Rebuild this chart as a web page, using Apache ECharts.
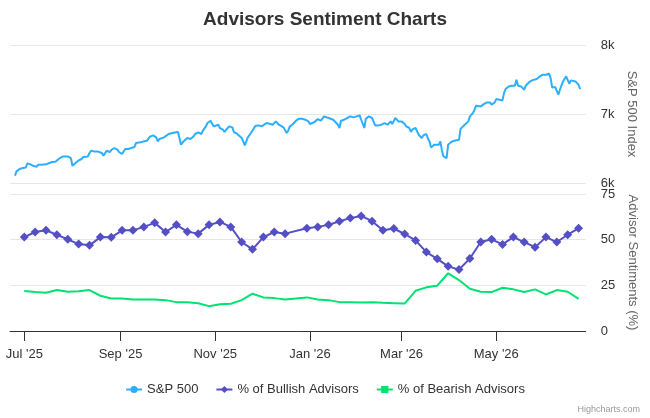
<!DOCTYPE html>
<html>
<head>
<meta charset="utf-8">
<title>Advisors Sentiment Charts</title>
<script src="https://cdn.jsdelivr.net/npm/echarts@6/dist/echarts.min.js"></script>
<style>
  html, body { margin: 0; padding: 0; background: #ffffff; }
  #chart { width: 650px; height: 418px; }
</style>
</head>
<body>
<div id="chart"></div>
<script>
// Days are counted from 1 Jul 2025.
const DAY = 86400000;
const BASE = Date.UTC(2025, 6, 1);

// S&P 500 daily close (sampled), day offset and value
const spxDay = [-6, -5, -3, -1, 1, 2, 4, 6, 8, 9, 10, 11, 12, 14, 15, 16, 18, 20, 21, 23,
  25, 26, 28, 30, 31, 33, 34, 35, 36, 37, 38, 39, 41, 42, 43, 45, 47, 48, 50, 51,
  52, 53, 54, 55, 56, 58, 60, 61, 63, 64, 65, 67, 69, 71, 72, 75, 77, 78, 79, 81,
  83, 85, 86, 87, 90, 91, 93, 94,
  97, 99, 100, 101, 103, 105, 106, 107, 109, 110, 112, 114, 115, 117, 118, 120, 121, 122, 123, 125,
  126, 128, 129, 130, 132, 133, 134, 135, 137, 138, 140, 141, 142, 143, 144, 146, 148, 149, 151, 153,
  154, 156, 158, 160, 162, 163, 164, 165, 167, 168, 169, 170, 171, 173, 175, 177, 179, 181, 183, 184,
  185, 187, 189, 191, 192, 193,
  194, 196, 197, 199, 200, 202, 203, 204, 206, 208, 210, 211, 212, 214, 216, 217, 219, 220, 222, 224,
  226, 228, 230, 232, 233, 234, 236, 237, 239, 241, 243, 244, 245, 246, 247, 248, 249, 250, 252, 253,
  254, 256, 257, 259, 260, 261, 262, 264, 265, 267, 268, 269, 270, 272, 273, 275, 277, 280, 281,
  283, 286, 287, 289, 290, 291, 292, 294, 295, 296, 298, 300, 301, 303, 304, 306, 308, 309, 310, 312,
  314, 316, 317, 318, 320, 321, 322, 323, 325, 327, 330, 332, 334, 335, 336, 338, 339, 340, 341, 342,
  344, 345, 347, 349, 350, 351, 352, 355, 356, 357, 358];
const spxValue = [6106, 6168, 6203, 6217, 6226, 6284, 6270, 6246, 6236, 6265, 6275, 6265, 6265, 6270, 6251, 6290, 6304, 6309, 6313, 6362,
  6385, 6391, 6385, 6362, 6251, 6290, 6313, 6327, 6304, 6348, 6377, 6362, 6385, 6435, 6468, 6458, 6458, 6449, 6435, 6396,
  6396, 6468, 6458, 6449, 6478, 6507, 6483, 6449, 6420, 6439, 6493, 6493, 6507, 6522, 6580, 6589, 6604, 6594, 6613, 6671,
  6690, 6661, 6604, 6638, 6661, 6675, 6710, 6719,
  6733, 6739, 6758, 6555, 6613, 6652, 6661, 6638, 6675, 6710, 6733, 6710, 6758, 6820, 6869, 6903, 6884, 6820, 6835, 6845,
  6797, 6772, 6739, 6772, 6820, 6845, 6806, 6739, 6714, 6690, 6652, 6603, 6545, 6603, 6661, 6725, 6797, 6830, 6835, 6820,
  6845, 6869, 6859, 6845, 6893, 6903, 6845, 6820, 6806, 6797, 6725, 6758, 6820, 6855, 6903, 6932, 6932, 6917, 6893, 6855,
  6859, 6884, 6927, 6903, 6932, 6965,
  6965, 6942, 6951, 6917, 6893, 6845, 6797, 6903, 6917, 6942, 6965, 6980, 6951, 6965, 6980, 6917, 6797, 6932, 6965, 6942,
  6835, 6835, 6845, 6869, 6884, 6845, 6893, 6855, 6942, 6893, 6893, 6869, 6855, 6820, 6845, 6797, 6739, 6777, 6797, 6782,
  6700, 6652, 6690, 6710, 6642, 6603, 6516, 6555, 6580, 6555, 6603, 6468, 6385, 6362, 6555, 6594, 6613, 6628, 6785,
  6830, 6893, 6965, 7014, 7062, 7120, 7120, 7110, 7085, 7143, 7168, 7168, 7134, 7168, 7216, 7207, 7197, 7303, 7361, 7400,
  7410, 7410, 7497, 7410, 7400, 7390, 7352, 7410, 7458, 7487, 7507, 7545, 7569, 7584, 7569, 7584, 7521, 7385, 7390, 7390,
  7280, 7352, 7472, 7545, 7521, 7439, 7487, 7472, 7472, 7424, 7361];

// weekly advisor survey
const surveyDates = ['2025-07-01', '2025-07-08', '2025-07-15', '2025-07-22', '2025-07-29',
  '2025-08-05', '2025-08-12', '2025-08-19', '2025-08-26',
  '2025-09-02', '2025-09-09', '2025-09-16', '2025-09-23', '2025-09-30',
  '2025-10-07', '2025-10-14', '2025-10-21', '2025-10-28',
  '2025-11-04', '2025-11-11', '2025-11-18', '2025-11-25',
  '2025-12-02', '2025-12-09', '2025-12-16', '2025-12-30',
  '2026-01-06', '2026-01-13', '2026-01-20', '2026-01-27',
  '2026-02-03', '2026-02-10', '2026-02-17', '2026-02-24',
  '2026-03-03', '2026-03-10', '2026-03-17', '2026-03-24', '2026-03-31',
  '2026-04-07', '2026-04-14', '2026-04-21', '2026-04-28',
  '2026-05-05', '2026-05-12', '2026-05-19', '2026-05-26',
  '2026-06-02', '2026-06-09', '2026-06-16', '2026-06-23'];
const bullish = [51.4, 54.2, 55.1, 52.7, 50.2, 47.6, 46.9, 51.4, 51.3, 55.1, 55.1, 57.0, 59.2, 54.2, 58.1, 54.4, 53.3,
  58.1, 59.7, 57.0, 48.7, 44.7, 51.4, 54.2, 53.3,
  56.2, 57.0, 58.1, 60.1, 61.8, 63.0, 60.1, 55.1, 56.1, 53.1, 49.6, 43.2, 39.5, 35.4, 33.6, 39.7,
  48.7, 50.2, 47.4, 51.4, 48.7, 45.9, 51.4, 48.7, 52.7, 56.2];
const bearish = [21.9, 21.3, 20.9, 22.4, 21.5, 21.7, 22.4, 19.3, 17.8, 17.8, 17.3, 17.3, 17.3, 16.9, 15.8, 15.8, 15.2,
  13.6, 14.7, 14.9, 16.9, 20.4, 18.4, 18.0, 17.3,
  18.4, 17.3, 16.9, 15.8, 15.8, 15.6, 15.8, 15.4, 15.2, 15.0, 22.0, 23.9, 24.8, 31.6, 27.9, 23.1,
  21.5, 21.3, 23.7, 22.8, 21.3, 22.8, 20.0, 22.4, 21.5, 17.6];

// x axis ticks
const tickDates = ['2025-07-01', '2025-09-01', '2025-11-01', '2026-01-01', '2026-03-01', '2026-05-01'];
const tickLabels = ["Jul '25", "Sep '25", "Nov '25", "Jan '26", "Mar '26", "May '26"];

const FONT = '"Liberation Sans", Arial, Helvetica, sans-serif';
const xMin = BASE - 9.2 * DAY;
const xMax = BASE + 361.6 * DAY;
const toTs = s => Date.parse(s + 'T00:00:00Z');
const tickTs = tickDates.map(toTs);

const spxData = spxDay.map((d, i) => [BASE + d * DAY, spxValue[i]]);
const bullData = surveyDates.map((s, i) => [toTs(s), bullish[i]]);
const bearData = surveyDates.map((s, i) => [toTs(s), bearish[i]]);

const chart = echarts.init(document.getElementById('chart'), null, { renderer: 'canvas' });

const option = {
  animation: false,
  textStyle: { fontFamily: FONT },
  title: {
    text: 'Advisors Sentiment Charts',
    left: 'center',
    top: 5,
    textStyle: { fontSize: 19, fontWeight: 'bold', color: '#333333', fontFamily: FONT }
  },
  legend: {
    top: 378,
    left: 'center',
    itemWidth: 16,
    itemHeight: 9,
    itemGap: 17,
    textStyle: { fontSize: 13, color: '#333333', fontFamily: FONT },
    data: ['S&P 500', '% of Bullish Advisors', '% of Bearish Advisors']
  },
  graphic: [{
    type: 'text',
    right: 10,
    top: 405,
    style: { text: 'Highcharts.com', fill: '#999999', fontSize: 9, fontFamily: FONT }
  }],
  grid: [
    { left: 10, right: 64.3, top: 45, height: 138, outerBoundsMode: 'none' },
    { left: 10, right: 64.3, top: 194, height: 137, outerBoundsMode: 'none' }
  ],
  xAxis: [
    {
      type: 'value', gridIndex: 0, min: xMin, max: xMax, show: false
    },
    {
      type: 'value', gridIndex: 1, min: xMin, max: xMax,
      axisLine: { show: true, onZero: false, lineStyle: { color: '#333333', width: 1 } },
      axisTick: { show: true, length: 10, lineStyle: { color: '#333333' }, customValues: tickTs },
      axisLabel: {
        customValues: tickTs,
        margin: 17,
        fontSize: 13,
        color: '#333333',
        fontFamily: FONT,
        formatter: v => tickLabels[tickTs.indexOf(v)] || ''
      },
      splitLine: { show: false }
    }
  ],
  yAxis: [
    {
      type: 'value', gridIndex: 0, position: 'right', min: 6000, max: 8000, interval: 1000,
      name: 'S&P 500 Index', nameLocation: 'middle', nameRotate: -90, nameGap: 34,
      nameTextStyle: { color: '#666666', fontSize: 13, fontFamily: FONT },
      axisLine: { show: false }, axisTick: { show: false },
      axisLabel: { margin: 15, fontSize: 13, color: '#333333', fontFamily: FONT, formatter: v => (v / 1000) + 'k' },
      splitLine: { lineStyle: { color: '#e6e6e6', width: 1 } }
    },
    {
      type: 'value', gridIndex: 1, position: 'right', min: 0, max: 75, interval: 25,
      name: 'Advisor Sentiments (%)', nameLocation: 'middle', nameRotate: -90, nameGap: 34,
      nameTextStyle: { color: '#666666', fontSize: 13, fontFamily: FONT },
      axisLine: { show: false }, axisTick: { show: false },
      axisLabel: { margin: 15, fontSize: 13, color: '#333333', fontFamily: FONT },
      splitLine: { lineStyle: { color: '#e6e6e6', width: 1 } }
    }
  ],
  series: [
    {
      name: 'S&P 500', type: 'line', xAxisIndex: 0, yAxisIndex: 0,
      data: spxData, showSymbol: false, symbol: 'circle', symbolSize: 8,
      lineStyle: { color: '#2caffe', width: 2 }, itemStyle: { color: '#2caffe' }
    },
    {
      name: '% of Bullish Advisors', type: 'line', xAxisIndex: 1, yAxisIndex: 1,
      data: bullData, symbol: 'diamond', symbolSize: 9, showSymbol: true,
      lineStyle: { color: '#544fc5', width: 2 }, itemStyle: { color: '#544fc5' }
    },
    {
      name: '% of Bearish Advisors', type: 'line', xAxisIndex: 1, yAxisIndex: 1,
      data: bearData, showSymbol: false, symbol: 'rect', symbolSize: 8,
      lineStyle: { color: '#00e272', width: 2 }, itemStyle: { color: '#00e272' }
    }
  ]
};

chart.setOption(option);
</script>
</body>
</html>
